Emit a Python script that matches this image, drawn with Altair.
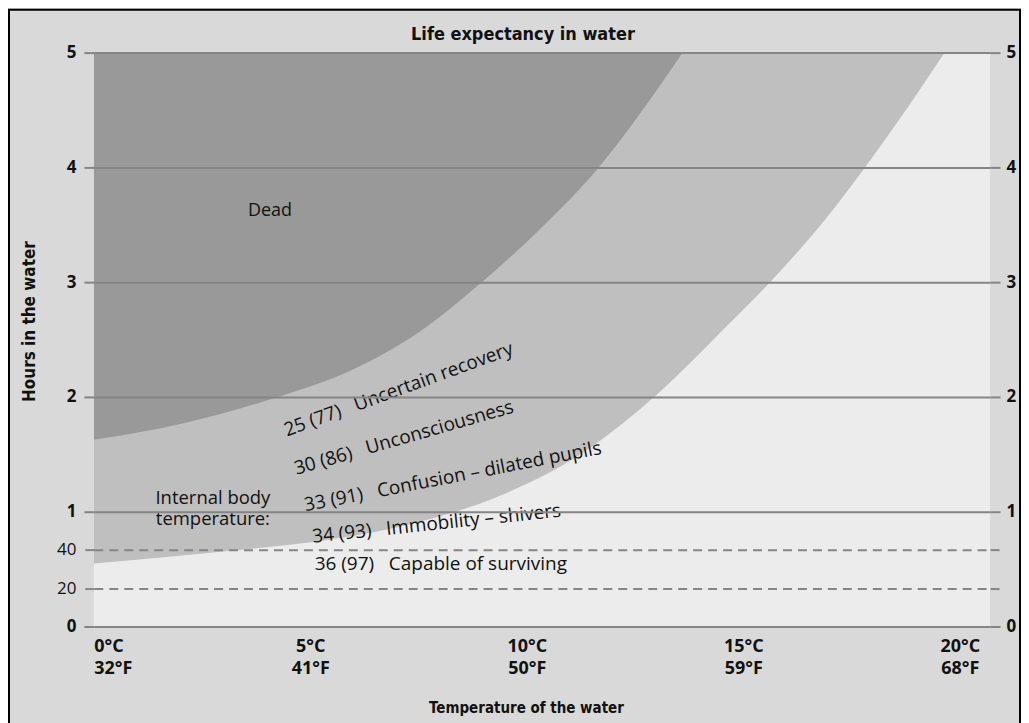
import altair as alt
import pandas as pd

# ---- texts ----
title_text = "Life expectancy in water"
x_title = "Temperature of the water"
y_title = "Hours in the water"

# ---- boundary between "Dead" and "Uncertain recovery" (deg C, hours) ----
dead_temp = [0, 2.10, 4.25, 5.96, 7.48, 8.96, 10.35, 11.64, 12.45, 13.6]
dead_hours = [1.626, 1.774, 2.0, 2.235, 2.557, 3.0, 3.478, 3.991, 4.383, 5.0]

# ---- boundary between the grey zone and "Capable of surviving" ----
zone_temp = [0, 3.21, 5.45, 7.53, 9.38, 11.22, 13.07, 14.46, 15.66, 16.84, 17.76, 18.78, 19.65]
zone_hours = [0.548, 0.661, 0.757, 0.913, 1.139, 1.496, 2.043, 2.557, 3.017, 3.522, 3.974, 4.513, 5.0]

# ---- axis ticks ----
x_ticks = [0, 5, 10, 15, 20]
y_ticks = [0, 1 / 3, 2 / 3, 1, 2, 3, 4, 5]

# ---- stage annotations (body temperature C (F) + stage) ----
stage_text = [
    "25 (77)\u00a0\u00a0\u00a0Uncertain recovery",
    "30 (86)\u00a0\u00a0\u00a0Unconsciousness",
    "33 (91)\u00a0\u00a0\u00a0Confusion \u2013 dilated pupils",
    "34 (93)\u00a0\u00a0\u00a0Immobility \u2013 shivers",
    "36 (97)\u00a0\u00a0\u00a0Capable of surviving",
]
stage_temp = [4.46, 4.68, 4.89, 5.06, 5.10]
stage_hours = [1.655, 1.322, 1.003, 0.730, 0.490]
stage_angle = [340, 344, 349, 354, 0]

body_text = "Internal body\ntemperature:"
body_temp = 2.75
body_hours = 1.07

dead_text = "Dead"
dead_label_temp = 4.07
dead_label_hours = 3.58

# ---- styling ----
BG = "#d9d9d9"
LIGHT = "#ececec"
MID = "#bfbfbf"
DARK = "#999999"
GRID = "#858585"
INK = "#111111"
TITLE_FONT = "'Liberation Sans Narrow', 'DejaVu Sans Condensed', 'Open Sans', sans-serif"
LABEL_FONT = "'Open Sans', sans-serif"
TEXT_FONT = "'Open Sans', sans-serif"

W, H = 898, 575

frac_test = "abs(datum.value - round(datum.value)) > 0.01"

x_scale = alt.Scale(domain=[0, 20.7], nice=False, zero=False)
y_scale = alt.Scale(domain=[0, 5], nice=False, zero=True)

x_axis = alt.Axis(
    values=x_ticks,
    labelExpr="[datum.value + '\u00b0C', format(datum.value * 1.8 + 32, 'd') + '\u00b0F']",
    labelFont=LABEL_FONT,
    labelFontSize=18,
    labelFontWeight="bold",
    labelColor=INK,
    labelLineHeight=22,
    labelPadding=11,
    labelBaseline="top",
    domain=False,
    ticks=False,
    grid=False,
    title=x_title,
    titleFont=TITLE_FONT,
    titleFontSize=15,
    titleFontWeight="bold",
    titleColor=INK,
    titleX=433,
    titleY=81,
    titleBaseline="middle",
    titleAlign="center",
)

y_axis_left = alt.Axis(
    values=y_ticks,
    labelExpr=f"{frac_test} ? format(datum.value * 60, '.0f') : format(datum.value, 'd')",
    labelFont=LABEL_FONT,
    labelFontSize=17,
    labelFontWeight={"condition": {"test": frac_test, "value": "normal"}, "value": "bold"},
    labelColor=INK,
    labelPadding=8,
    tickSize=10,
    tickColor=GRID,
    tickWidth=2,
    tickDash={"condition": {"test": frac_test, "value": [9, 6]}, "value": []},
    grid=True,
    gridColor=GRID,
    gridWidth=2,
    gridOpacity=1,
    gridDash={"condition": {"test": frac_test, "value": [9, 6]}, "value": []},
    domain=False,
    zindex=1,
    title=y_title,
    titleFont=TITLE_FONT,
    titleFontSize=17,
    titleFontWeight="bold",
    titleColor=INK,
    titleX=-64,
    titleY=269,
    titleAngle=270,
    titleBaseline="middle",
    titleAlign="center",
)

y_axis_right = alt.Axis(
    orient="right",
    values=y_ticks,
    labelExpr=f"{frac_test} ? '' : format(datum.value, 'd')",
    labelFont=LABEL_FONT,
    labelFontSize=17,
    labelFontWeight="bold",
    labelColor=INK,
    labelPadding=6,
    tickSize=10,
    tickColor=GRID,
    tickWidth=2,
    tickDash={"condition": {"test": frac_test, "value": [9, 6]}, "value": []},
    grid=False,
    domain=False,
    zindex=1,
    title=None,
)

zone_df = pd.DataFrame({"temp": zone_temp, "hours": zone_hours})
dead_df = pd.DataFrame({"temp": dead_temp, "hours": dead_hours})

zone_area = alt.Chart(zone_df).mark_area(color=MID, interpolate="monotone", clip=True).encode(
    x=alt.X("temp:Q", scale=x_scale, axis=x_axis),
    y=alt.Y("hours:Q", scale=y_scale, axis=y_axis_left),
    y2=alt.datum(5),
)

dead_area = alt.Chart(dead_df).mark_area(color=DARK, interpolate="monotone", clip=True).encode(
    x=alt.X("temp:Q", scale=x_scale, axis=x_axis),
    y=alt.Y("hours:Q", scale=y_scale, axis=y_axis_right),
    y2=alt.datum(5),
)

layers = [zone_area, dead_area]

for txt, t, h, ang in zip(stage_text, stage_temp, stage_hours, stage_angle):
    df = pd.DataFrame({"temp": [t], "hours": [h], "label": [txt]})
    layers.append(
        alt.Chart(df).mark_text(
            align="left", baseline="alphabetic", angle=ang,
            font=TEXT_FONT, fontSize=19, color=INK,
        ).encode(
            x=alt.X("temp:Q", scale=x_scale, axis=x_axis),
            y=alt.Y("hours:Q", scale=y_scale, axis=None),
            text="label:N",
        )
    )

body_df = pd.DataFrame({"temp": [body_temp], "hours": [body_hours], "label": [body_text]})
layers.append(
    alt.Chart(body_df).mark_text(
        align="center", baseline="alphabetic", lineBreak="\n", lineHeight=21,
        font=TEXT_FONT, fontSize=18.5, color=INK,
    ).encode(
        x=alt.X("temp:Q", scale=x_scale, axis=x_axis),
        y=alt.Y("hours:Q", scale=y_scale, axis=None),
        text="label:N",
    )
)

dl_df = pd.DataFrame({"temp": [dead_label_temp], "hours": [dead_label_hours], "label": [dead_text]})
layers.append(
    alt.Chart(dl_df).mark_text(
        align="center", baseline="alphabetic",
        font=TEXT_FONT, fontSize=18, color=INK,
    ).encode(
        x=alt.X("temp:Q", scale=x_scale, axis=x_axis),
        y=alt.Y("hours:Q", scale=y_scale, axis=None),
        text="label:N",
    )
)

# outer black frame of the figure
frame = alt.Chart(pd.DataFrame({"f": [0]})).mark_rect(
    filled=False, stroke="black", strokeWidth=2, clip=False
).encode(
    x=alt.value(-85), x2=alt.value(W + 30), y=alt.value(-43), y2=alt.value(H + 110)
)
layers.append(frame)

chart = (
    alt.layer(*layers)
    .resolve_axis(y="independent")
    .properties(
        width=W,
        height=H,
        background=BG,
        padding={"left": 86, "top": 44, "right": 31, "bottom": 96},
        autosize=alt.AutoSizeParams(type="none"),
        title=alt.TitleParams(
            text=title_text,
            font=TITLE_FONT,
            fontSize=18,
            fontWeight="bold",
            color=INK,
            anchor="middle",
            frame="group",
            baseline="middle",
            offset=0,
            dx=-19,
            dy=44,
        ),
    )
    .configure_view(fill=LIGHT, stroke=None)
)

chart.save("out.html", embed_options={"renderer": "svg", "actions": False})
